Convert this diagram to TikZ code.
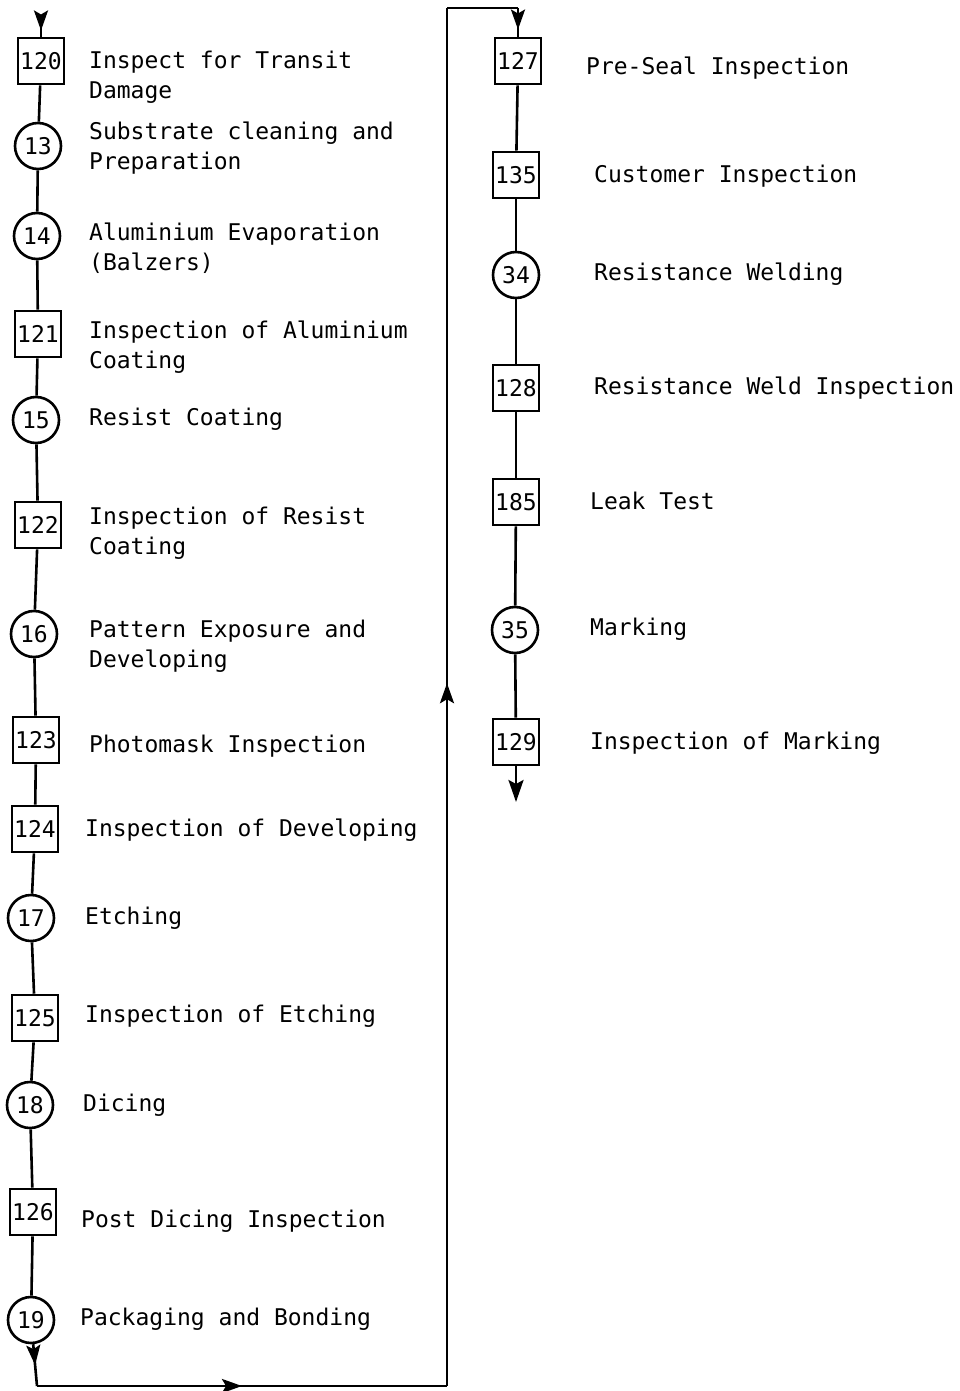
\documentclass[tikz,border=0pt]{standalone}
\usepackage{fontspec}
\newfontfamily\flowmono{DejaVu Sans Mono}
\usetikzlibrary{arrows.meta,decorations.markings}
\begin{document}
\begin{tikzpicture}[x=1pt,y=-1pt,
  box/.style={draw, line width=2.6pt, minimum width=46pt, minimum height=46pt,
    inner sep=0pt, fill=white, font=\flowmono\fontsize{23}{28}\selectfont},
  op/.style={draw, circle, line width=2.6pt, minimum size=46pt, inner sep=0pt,
    fill=white, font=\flowmono\fontsize{23}{28}\selectfont},
  lbl/.style={anchor=west, align=left, inner sep=0pt,
    font=\flowmono\fontsize{23}{30}\selectfont},
  flow/.style={line width=2.6pt},
  midarrow/.style={postaction={decorate}, decoration={markings,
    mark=at position #1 with {\arrow{Stealth[length=20pt,width=14pt,inset=4pt]}}}},
  tip/.style={-{Stealth[length=22pt,width=15pt,inset=4pt]}}]
\useasboundingbox (0,0) rectangle (960,1391);

% left column of operations
\node[box] (n120) at (41,61) {120};
\node[op]  (n13)  at (38,146) {13};
\node[op]  (n14)  at (37,236) {14};
\node[box] (n121) at (38,334) {121};
\node[op]  (n15)  at (36,420) {15};
\node[box] (n122) at (38,525) {122};
\node[op]  (n16)  at (34,634) {16};
\node[box] (n123) at (36,740) {123};
\node[box] (n124) at (35,829) {124};
\node[op]  (n17)  at (31,918) {17};
\node[box] (n125) at (35,1018) {125};
\node[op]  (n18)  at (30,1105) {18};
\node[box] (n126) at (33,1212) {126};
\node[op]  (n19)  at (31,1320) {19};

\node[lbl] (t120) at (89,77)   {Inspect for Transit\\Damage};
\node[lbl] (t13)  at (89,148)  {Substrate cleaning and\\Preparation};
\node[lbl] (t14)  at (89,248)  {Aluminium Evaporation\\(Balzers)};
\node[lbl] (t121) at (89,347)  {Inspection of Aluminium\\Coating};
\node[lbl] (t15)  at (89,419)  {Resist Coating};
\node[lbl] (t122) at (89,533)  {Inspection of Resist\\Coating};
\node[lbl] (t16)  at (89,646)  {Pattern Exposure and\\Developing};
\node[lbl] (t123) at (89,746)  {Photomask Inspection};
\node[lbl] (t124) at (85,830)  {Inspection of Developing};
\node[lbl] (t17)  at (85,918)  {Etching};
\node[lbl] (t125) at (85,1016) {Inspection of Etching};
\node[lbl] (t18)  at (83,1105) {Dicing};
\node[lbl] (t126) at (81,1221) {Post Dicing Inspection};
\node[lbl] (t19)  at (80,1319) {Packaging and Bonding};

% right column of operations
\node[box] (n127) at (518,61)  {127};
\node[box] (n135) at (516,175) {135};
\node[op]  (n34)  at (516,275) {34};
\node[box] (n128) at (516,388) {128};
\node[box] (n185) at (516,502) {185};
\node[op]  (n35)  at (515,630) {35};
\node[box] (n129) at (516,742) {129};

\node[lbl] (t127) at (586,68)  {Pre-Seal Inspection};
\node[lbl] (t135) at (594,176) {Customer Inspection};
\node[lbl] (t34)  at (594,274) {Resistance Welding};
\node[lbl] (t128) at (594,388) {Resistance Weld Inspection};
\node[lbl] (t185) at (590,501) {Leak Test};
\node[lbl] (t35)  at (590,629) {Marking};
\node[lbl] (t129) at (590,743) {Inspection of Marking};

% routing points
\coordinate (start) at (41,16);
\coordinate (c1) at (37,1386);
\coordinate (c2) at (447,1386);
\coordinate (c3) at (447,8);
\coordinate (c4) at (518,8);
\coordinate (finish) at (516,802);

% connectors
\draw[flow, midarrow=0.7] (start) -- (n120);
\draw[flow] (n120) -- (n13);
\draw[flow] (n13) -- (n14);
\draw[flow] (n14) -- (n121);
\draw[flow] (n121) -- (n15);
\draw[flow] (n15) -- (n122);
\draw[flow] (n122) -- (n16);
\draw[flow] (n16) -- (n123);
\draw[flow] (n123) -- (n124);
\draw[flow] (n124) -- (n17);
\draw[flow] (n17) -- (n125);
\draw[flow] (n125) -- (n18);
\draw[flow] (n18) -- (n126);
\draw[flow] (n126) -- (n19);
\draw[flow, midarrow=0.5] (n19) -- (c1);
\draw[flow, midarrow=0.5] (c1) -- (c2);
\draw[flow, midarrow=0.51] (c2) -- (c3);
\draw[flow] (c3) -- (c4);
\draw[flow, midarrow=0.75] (c4) -- (n127);
\draw[flow] (n127) -- (n135);
\draw[flow] (n135) -- (n34);
\draw[flow] (n34) -- (n128);
\draw[flow] (n128) -- (n185);
\draw[flow] (n185) -- (n35);
\draw[flow] (n35) -- (n129);
\draw[flow, tip] (n129) -- (finish);
\end{tikzpicture}
\end{document}
